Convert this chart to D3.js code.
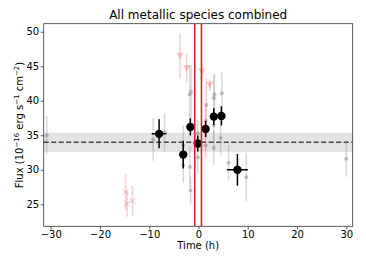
<!DOCTYPE html>
<html>
<head>
<meta charset="utf-8">
<script src="https://cdn.jsdelivr.net/npm/d3@7"></script>
<style>
  body { margin: 0; background: #fff; }
  text { font-family: 'DejaVu Sans', sans-serif; }
</style>
</head>
<body>
<svg id="chart" width="366" height="264"></svg>
<script>
// combined measurements (black)
const blackT = [-8.0, -3.1, -1.65, -0.15, 1.45, 3.1, 4.65, 7.9]
const blackF = [35.2, 32.2, 36.2, 33.8, 35.9, 37.7, 37.8, 30.0]
const blackErr = [2.1, 2.0, 1.25, 1.15, 1.15, 1.2, 1.4, 2.3]
const blackTErr = [1.5, 0, 0, 0, 0, 0, 0, 2.1]

// individual species (grey)
const greyT = [-30.8, -9.2, -6.9, -3.1, -3.1, -1.8, -1.5, -1.75, -1.6, -0.15, -0.15, 1.6, 1.45, 1.45, 3.1, 3.25, 3.1, 3.1, 4.75, 4.5, 6.1, 9.7, 30.0]
const greyF = [35.0, 34.4, 35.4, 33.5, 30.7, 40.9, 41.3, 30.4, 27.0, 35.3, 31.8, 39.4, 37.1, 33.5, 40.4, 40.9, 36.4, 33.2, 41.1, 34.6, 31.0, 28.9, 31.6]
const greyErr = [2.8, 3.1, 2.8, 3.0, 2.6, 4.2, 3.8, 3.0, 2.0, 2.0, 2.3, 3.8, 2.5, 1.8, 3.3, 3.0, 2.5, 2.5, 3.0, 2.5, 2.6, 3.5, 2.6]

// upper limits (pink triangles)
const limT = [-3.75, -2.4, 0.7, 2.3]
const limF = [46.5, 44.7, 44.2, 42.3]
const limErr = [3.3, 2.05, 1.5, 0.8]

// excluded points (pink crosses)
const crossT = [-14.8, -14.5, -13.4]
const crossF = [26.8, 25.1, 25.5]
const crossErr = [2.6, 1.9, 2.2]

const meanFlux = 34.0
const bandLow = 32.6
const bandHigh = 35.35
const redLines = [-0.75, 0.6]

const xTicks = [-30, -20, -10, 0, 10, 20, 30]
const yTicks = [25, 30, 35, 40, 45, 50]

let svg = d3.select('#chart')
let pLeft = 43.7, pRight = 352.7, pTop = 23.7, pBottom = 226.3

let x = d3.scaleLinear().domain([-31.42, 31.3]).range([pLeft, pRight])
let y = d3.scaleLinear().domain([21.81, 51.16]).range([pBottom, pTop])

svg.append('defs').append('clipPath').attr('id', 'clip')
  .append('rect')
  .attr('x', pLeft).attr('y', pTop)
  .attr('width', pRight - pLeft).attr('height', pBottom - pTop)

let plot = svg.append('g').attr('clip-path', 'url(#clip)')

// mean band and line
plot.append('rect')
  .attr('x', pLeft).attr('width', pRight - pLeft)
  .attr('y', y(bandHigh)).attr('height', y(bandLow) - y(bandHigh))
  .attr('fill', '#808080').attr('fill-opacity', 0.22)

plot.append('line')
  .attr('x1', pLeft).attr('x2', pRight)
  .attr('y1', y(meanFlux)).attr('y2', y(meanFlux))
  .attr('stroke', '#444').attr('stroke-width', 1.5)
  .attr('stroke-dasharray', '5,2.5')

// grey points
let grey = plot.append('g').selectAll('g')
  .data(greyT.map(function (t, i) { return { t: t, f: greyF[i], e: greyErr[i] } }))
  .enter().append('g')
grey.append('line')
  .attr('x1', function (d) { return x(d.t) }).attr('x2', function (d) { return x(d.t) })
  .attr('y1', function (d) { return y(d.f - d.e) }).attr('y2', function (d) { return y(d.f + d.e) })
  .attr('stroke', '#808080').attr('stroke-opacity', 0.3).attr('stroke-width', 1.5)
grey.append('circle')
  .attr('cx', function (d) { return x(d.t) }).attr('cy', function (d) { return y(d.f) })
  .attr('r', 2).attr('fill', '#808080').attr('fill-opacity', 0.45)

// upper limits
let lim = plot.append('g').selectAll('g')
  .data(limT.map(function (t, i) { return { t: t, f: limF[i], e: limErr[i] } }))
  .enter().append('g')
lim.append('line')
  .attr('x1', function (d) { return x(d.t) }).attr('x2', function (d) { return x(d.t) })
  .attr('y1', function (d) { return y(d.f - d.e) }).attr('y2', function (d) { return y(d.f + d.e) })
  .attr('stroke', '#e06060').attr('stroke-opacity', 0.3).attr('stroke-width', 1.5)
lim.append('path')
  .attr('transform', function (d) { return 'translate(' + x(d.t) + ',' + y(d.f) + ')' })
  .attr('d', 'M-3.6,-3.2L3.6,-3.2L0,3.6Z')
  .attr('fill', '#f08080').attr('fill-opacity', 0.45)

// crosses
let cross = plot.append('g').selectAll('g')
  .data(crossT.map(function (t, i) { return { t: t, f: crossF[i], e: crossErr[i] } }))
  .enter().append('g')
cross.append('line')
  .attr('x1', function (d) { return x(d.t) }).attr('x2', function (d) { return x(d.t) })
  .attr('y1', function (d) { return y(d.f - d.e) }).attr('y2', function (d) { return y(d.f + d.e) })
  .attr('stroke', '#e06060').attr('stroke-opacity', 0.3).attr('stroke-width', 1.5)
cross.append('path')
  .attr('transform', function (d) { return 'translate(' + x(d.t) + ',' + y(d.f) + ')' })
  .attr('d', 'M-3,-3L3,3M-3,3L3,-3')
  .attr('stroke', '#f08080').attr('stroke-opacity', 0.55).attr('stroke-width', 1)

// black points
let black = plot.append('g').selectAll('g')
  .data(blackT.map(function (t, i) { return { t: t, f: blackF[i], e: blackErr[i], te: blackTErr[i] } }))
  .enter().append('g')
black.append('line')
  .attr('x1', function (d) { return x(d.t) }).attr('x2', function (d) { return x(d.t) })
  .attr('y1', function (d) { return y(d.f - d.e) }).attr('y2', function (d) { return y(d.f + d.e) })
  .attr('stroke', '#000').attr('stroke-width', 1.5)
black.filter(function (d) { return d.te > 0 }).append('line')
  .attr('x1', function (d) { return x(d.t - d.te) }).attr('x2', function (d) { return x(d.t + d.te) })
  .attr('y1', function (d) { return y(d.f) }).attr('y2', function (d) { return y(d.f) })
  .attr('stroke', '#000').attr('stroke-width', 1.5)
black.append('circle')
  .attr('cx', function (d) { return x(d.t) }).attr('cy', function (d) { return y(d.f) })
  .attr('r', 4.2).attr('fill', '#000')

// red vertical lines
plot.append('g').selectAll('line')
  .data(redLines)
  .enter().append('line')
  .attr('x1', function (d) { return x(d) }).attr('x2', function (d) { return x(d) })
  .attr('y1', pTop).attr('y2', pBottom)
  .attr('stroke', '#e8141c').attr('stroke-width', 1.5)

// axes
svg.append('g')
  .attr('transform', 'translate(0,' + pBottom + ')')
  .call(d3.axisBottom(x).tickValues(xTicks).tickSize(3).tickPadding(1.5)
    .tickFormat(function (d) { return d < 0 ? '\u2212' + Math.abs(d) : d }))
svg.append('g')
  .attr('transform', 'translate(' + pLeft + ',0)')
  .call(d3.axisLeft(y).tickValues(yTicks).tickSize(3).tickPadding(1.5))

svg.selectAll('.domain').remove()
svg.selectAll('.tick line').attr('stroke', '#333').attr('stroke-width', 0.8)
svg.selectAll('.tick text').attr('font-size', 10).attr('fill', '#000')
  .style('font-family', 'DejaVu Sans')

svg.append('rect')
  .attr('x', pLeft).attr('y', pTop)
  .attr('width', pRight - pLeft).attr('height', pBottom - pTop)
  .attr('fill', 'none').attr('stroke', '#333').attr('stroke-width', 0.8)

// labels
svg.append('text')
  .attr('x', (pLeft + pRight) / 2).attr('y', 19)
  .attr('text-anchor', 'middle').attr('font-size', 12)
  .text('All metallic species combined')

svg.append('text')
  .attr('x', (pLeft + pRight) / 2).attr('y', 249)
  .attr('text-anchor', 'middle').attr('font-size', 10)
  .text('Time (h)')

let yl = svg.append('text')
  .attr('transform', 'translate(23,' + ((pTop + pBottom) / 2) + ') rotate(-90)')
  .attr('text-anchor', 'middle').attr('font-size', 10)
yl.append('tspan').text('Flux (10')
yl.append('tspan').attr('dy', -4).attr('font-size', 7).text('\u221216')
yl.append('tspan').attr('dy', 4).text(' erg s')
yl.append('tspan').attr('dy', -4).attr('font-size', 7).text('\u22121')
yl.append('tspan').attr('dy', 4).text(' cm')
yl.append('tspan').attr('dy', -4).attr('font-size', 7).text('\u22122')
yl.append('tspan').attr('dy', 4).text(')')
</script>
</body>
</html>
